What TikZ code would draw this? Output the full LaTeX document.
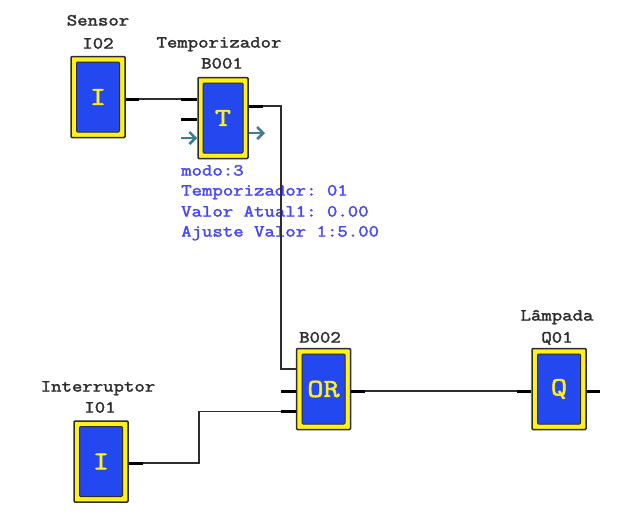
\documentclass[tikz,border=0pt]{standalone}
\usepackage{fontspec}
\setmonofont[FakeStretch=1.2,FakeBold=2.2]{Latin Modern Mono}
\usetikzlibrary{arrows.meta}
\definecolor{blue1}{RGB}{36, 72, 240}
\definecolor{yellow1}{RGB}{255, 240, 30}
\definecolor{teal1}{RGB}{62, 125, 150}
\definecolor{blue2}{RGB}{70, 70, 255}
\definecolor{gray1}{RGB}{45, 45, 45}
\tikzset{
  frame/.style={rectangle,draw=gray1,fill=yellow1,line width=1.5pt,rounded corners=1pt,minimum width=54pt,minimum height=81pt},
  face/.style={rectangle,draw=gray1,fill=blue1,line width=1pt,rounded corners=1pt,text=yellow1,inner sep=0pt,minimum width=43pt,minimum height=70pt,font=\fontsize{26}{26}\selectfont\ttfamily},
  title/.style={font=\fontsize{16.85}{17}\selectfont\ttfamily,text=gray1,inner sep=0pt,text height=9pt,text depth=3pt},
  info/.style={font=\fontsize{16.85}{17}\selectfont\ttfamily,text=blue2,inner sep=0pt,anchor=west,text height=9pt,text depth=3pt},
  wire/.style={draw=gray1,line width=1.5pt},
  stub/.style={draw=black,line width=3pt},
  flow/.style={draw=teal1,line width=2.6pt,-{Straight Barb[length=6pt,width=12pt]}}
}
\begin{document}
\begin{tikzpicture}[x=1pt,y=-1pt]
  \useasboundingbox (0,0) rectangle (635,520);
  % labels
  \node[info] (modo) at (181,172.5) {modo:3};
  \node[info] (temp) at (181,192.5) {Temporizador: 01};
  \node[info] (atual) at (181,213.5) {Valor Atual1: 0.00};
  \node[info] (ajuste) at (181,233.5) {Ajuste Valor 1:5.00};
  \node[title] (sensor) at (98,22.5) {Sensor};
  \node[title] (i02 name) at (98,45.5) {I02};
  \node[title] (temporizador) at (219,44.5) {Temporizador};
  \node[title] (b001 name) at (222,65.5) {B001};
  \node[title] (b002 name) at (320,339.5) {B002};
  \node[title] (interruptor) at (98,388.5) {Interruptor};
  \node[title] (i01 name) at (100,409.5) {I01};
  \node[title] (lampada) at (557,317.5) {Lâmpada};
  \node[title] (q01 name) at (557,339.5) {Q01};
  % blocks
  \node[frame] (i02) at (98,97) {};
  \node[frame,minimum width=50pt] (b001) at (223,118) {};
  \node[frame] (b002) at (323.5,389) {};
  \node[frame] (i01) at (101,461.5) {};
  \node[frame] (q01) at (559,389) {};
  \node[face] (i02 face) at (i02) {I};
  \node[face,minimum width=40pt] (b001 face) at (b001) {T};
  \node[face] (b002 face) at (b002) {OR};
  \node[face] (i01 face) at (i01) {I};
  \node[face] (q01 face) at (q01) {Q};
  % pins
  \coordinate (i02 out) at (139,99);
  \coordinate (b001 in1) at (181,99);
  \coordinate (b001 in2) at (181,119);
  \coordinate (b001 in3) at (181,138);
  \coordinate (b001 out1) at (263,106);
  \coordinate (b001 out2) at (265,133);
  \coordinate (b002 in1) at (281,369);
  \coordinate (b002 in2) at (281,391);
  \coordinate (b002 in3) at (281,411.5);
  \coordinate (b002 out) at (365,391);
  \coordinate (i01 out) at (143,463);
  \coordinate (q01 in) at (517,391);
  \coordinate (q01 out) at (600,391);
  % wires
  \draw[wire] (i02 out) -- (b001 in1);
  \draw[wire] (b001 out1) -| (b002 in1) -- (b002 in1 -| b002.west);
  \draw[wire] (i01 out) -| (199,411.5) -- (b002 in3);
  \draw[wire] (b002 out) -- (q01 in);
  \foreach \from/\to in {i02.east/i02 out, b001.west/b001 in1, b001.west/b001 in2, b001.east/b001 out1, b002.west/b002 in2, b002.west/b002 in3, b002.east/b002 out, i01.east/i01 out, q01.west/q01 in, q01.east/q01 out}
   \draw[stub] (\to) -- (\to -| \from);
  \draw[flow] (b001 in3) -- (b001 in3 -| b001.west);
  \draw[flow] (b001 out2 -| b001.east) -- (b001 out2);
\end{tikzpicture}
\end{document}
